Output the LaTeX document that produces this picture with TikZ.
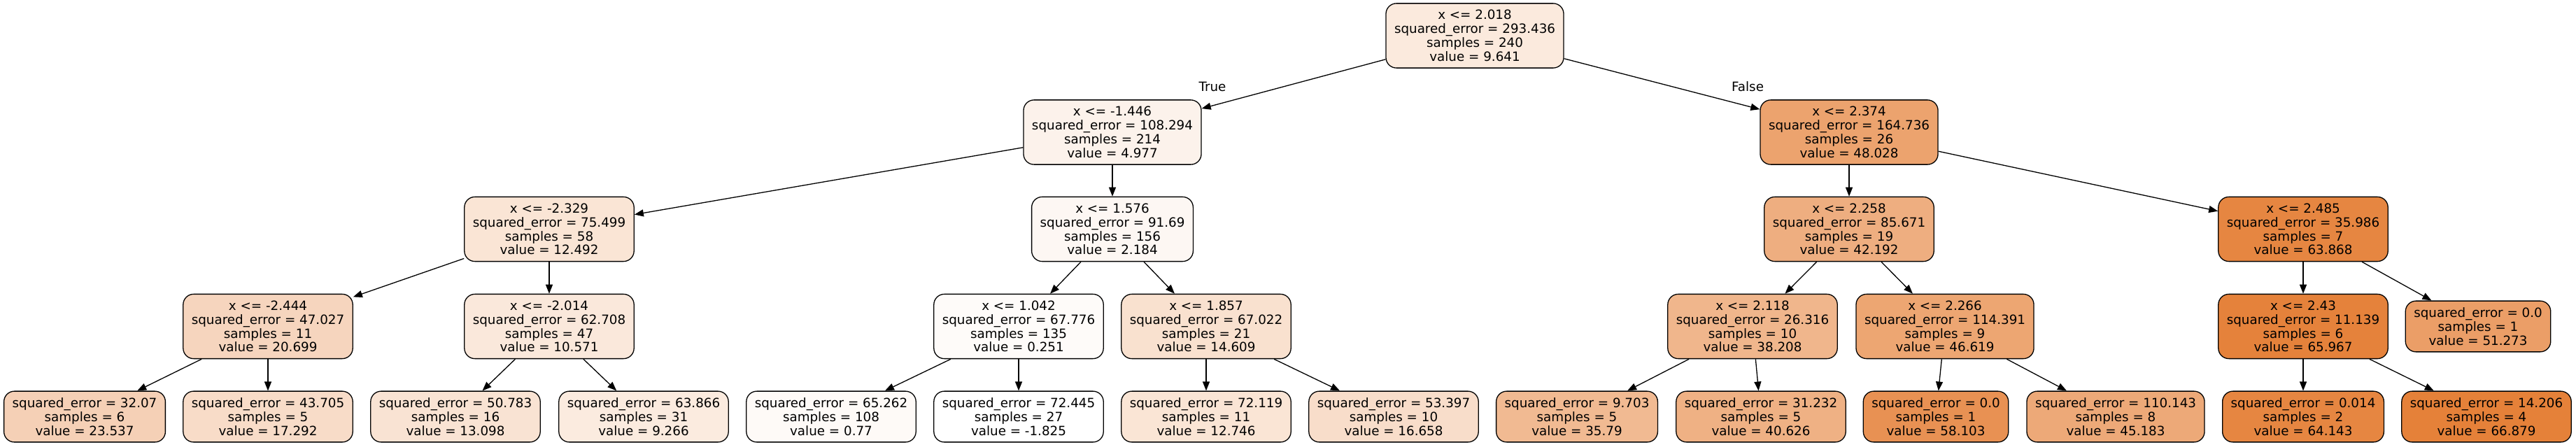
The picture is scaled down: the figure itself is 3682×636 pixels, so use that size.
\documentclass[tikz,border=0pt]{standalone}
\usepackage{fontspec}
\setmainfont{DejaVu Sans}
\usetikzlibrary{arrows.meta}
\definecolor{skorange}{RGB}{229,129,57}
\begin{document}
\begin{tikzpicture}[x=1pt, y=-1pt, >={Triangle[length=13pt,width=10pt]},
  box/.style={draw, rounded corners=15pt, align=center, line width=1.3pt,
    inner xsep=12pt, inner ysep=9.5pt, font=\fontsize{18.3pt}{19.8pt}\selectfont},
  lbl/.style={font=\fontsize{18.3pt}{19.8pt}\selectfont},
  edge/.style={->, line width=1.3pt}]
\useasboundingbox (0,0) rectangle (3682,636);
% depth 0 and 1
\node[box, fill=skorange!17] (n0) at (2108,51) {x <= 2.018\\squared\_error = 293.436\\samples = 240\\value = 9.641};
\node[box, fill=skorange!10] (n1) at (1590,189) {x <= -1.446\\squared\_error = 108.294\\samples = 214\\value = 4.977};
\node[box, fill=skorange!73] (n16) at (2643,189) {x <= 2.374\\squared\_error = 164.736\\samples = 26\\value = 48.028};
\node[lbl] (lt) at (1733,124) {True};
\node[lbl] (lf) at (2498,124) {False};
% depth 2
\node[box, fill=skorange!21] (n2) at (785,327.5) {x <= -2.329\\squared\_error = 75.499\\samples = 58\\value = 12.492};
\node[box, fill=skorange!6] (n9) at (1590,327.5) {x <= 1.576\\squared\_error = 91.69\\samples = 156\\value = 2.184};
\node[box, fill=skorange!64] (n17) at (2643,327.5) {x <= 2.258\\squared\_error = 85.671\\samples = 19\\value = 42.192};
\node[box, fill=skorange!96] (n24) at (3292,327.5) {x <= 2.485\\squared\_error = 35.986\\samples = 7\\value = 63.868};
% depth 3
\node[box, fill=skorange!33] (n3) at (383,466.5) {x <= -2.444\\squared\_error = 47.027\\samples = 11\\value = 20.699};
\node[box, fill=skorange!18] (n6) at (785,466.5) {x <= -2.014\\squared\_error = 62.708\\samples = 47\\value = 10.571};
\node[box, fill=skorange!3] (n10) at (1456,466.5) {x <= 1.042\\squared\_error = 67.776\\samples = 135\\value = 0.251};
\node[box, fill=skorange!24] (n13) at (1724,466.5) {x <= 1.857\\squared\_error = 67.022\\samples = 21\\value = 14.609};
\node[box, fill=skorange!58] (n18) at (2505,466.5) {x <= 2.118\\squared\_error = 26.316\\samples = 10\\value = 38.208};
\node[box, fill=skorange!71] (n21) at (2780,466.5) {x <= 2.266\\squared\_error = 114.391\\samples = 9\\value = 46.619};
\node[box, fill=skorange!99] (n25) at (3292,466.5) {x <= 2.43\\squared\_error = 11.139\\samples = 6\\value = 65.967};
\node[box, fill=skorange!77] (n28) at (3542,466.5) {squared\_error = 0.0\\samples = 1\\value = 51.273};
% depth 4, leaves
\node[box, fill=skorange!37] (n4) at (121,595.5) {squared\_error = 32.07\\samples = 6\\value = 23.537};
\node[box, fill=skorange!28] (n5) at (383,595.5) {squared\_error = 43.705\\samples = 5\\value = 17.292};
\node[box, fill=skorange!22] (n7) at (651,595.5) {squared\_error = 50.783\\samples = 16\\value = 13.098};
\node[box, fill=skorange!16] (n8) at (920,595.5) {squared\_error = 63.866\\samples = 31\\value = 9.266};
\node[box, fill=skorange!4] (n11) at (1188,595.5) {squared\_error = 65.262\\samples = 108\\value = 0.77};
\node[box, fill=white] (n12) at (1456,595.5) {squared\_error = 72.445\\samples = 27\\value = -1.825};
\node[box, fill=skorange!21] (n14) at (1724,595.5) {squared\_error = 72.119\\samples = 11\\value = 12.746};
\node[box, fill=skorange!27] (n15) at (1992,595.5) {squared\_error = 53.397\\samples = 10\\value = 16.658};
\node[box, fill=skorange!55] (n19) at (2254,595.5) {squared\_error = 9.703\\samples = 5\\value = 35.79};
\node[box, fill=skorange!62] (n20) at (2517,595.5) {squared\_error = 31.232\\samples = 5\\value = 40.626};
\node[box, fill=skorange!87] (n22) at (2767,595.5) {squared\_error = 0.0\\samples = 1\\value = 58.103};
\node[box, fill=skorange!68] (n23) at (3024,595.5) {squared\_error = 110.143\\samples = 8\\value = 45.183};
\node[box, fill=skorange!96] (n26) at (3292,595.5) {squared\_error = 0.014\\samples = 2\\value = 64.143};
\node[box, fill=skorange] (n27) at (3554,595.5) {squared\_error = 14.206\\samples = 4\\value = 66.879};
% edges
\draw[edge] (n0) -- (n1);
\draw[edge] (n0) -- (n16);
\draw[edge] (n1) -- (n2);
\draw[edge] (n1) -- (n9);
\draw[edge] (n16) -- (n17);
\draw[edge] (n16) -- (n24);
\draw[edge] (n2) -- (n3);
\draw[edge] (n2) -- (n6);
\draw[edge] (n9) -- (n10);
\draw[edge] (n9) -- (n13);
\draw[edge] (n17) -- (n18);
\draw[edge] (n17) -- (n21);
\draw[edge] (n24) -- (n25);
\draw[edge] (n24) -- (n28);
\draw[edge] (n3) -- (n4);
\draw[edge] (n3) -- (n5);
\draw[edge] (n6) -- (n7);
\draw[edge] (n6) -- (n8);
\draw[edge] (n10) -- (n11);
\draw[edge] (n10) -- (n12);
\draw[edge] (n13) -- (n14);
\draw[edge] (n13) -- (n15);
\draw[edge] (n18) -- (n19);
\draw[edge] (n18) -- (n20);
\draw[edge] (n21) -- (n22);
\draw[edge] (n21) -- (n23);
\draw[edge] (n25) -- (n26);
\draw[edge] (n25) -- (n27);
\end{tikzpicture}
\end{document}
